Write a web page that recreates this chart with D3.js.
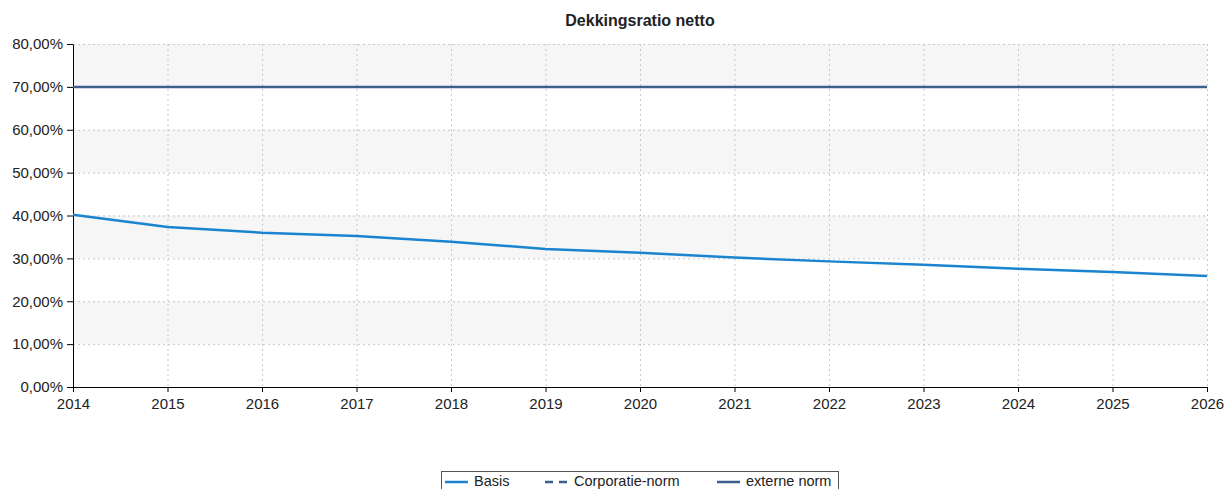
<!DOCTYPE html>
<html>
<head>
<meta charset="utf-8">
<script src="https://cdn.jsdelivr.net/npm/d3@7"></script>
<style>
    body { margin: 0; background: #fff; font-family: "Liberation Sans", Arial, sans-serif; }
    .tick text { font-size: 15px; fill: #222; font-family: "Liberation Sans", Arial, sans-serif; }
    .grid line { stroke: #c8c8c8; stroke-dasharray: 2,3; }
</style>
</head>
<body>
<div id="chart"></div>
<script>
// --- chart data ---
const years = [2014, 2015, 2016, 2017, 2018, 2019, 2020, 2021, 2022, 2023, 2024, 2025, 2026];
const basis = [40.2, 37.3, 36.0, 35.2, 33.9, 32.2, 31.3, 30.2, 29.3, 28.5, 27.6, 26.8, 25.9];
const corporatieNorm = [];   // no values shown in the chart, legend only
const externeNorm = [70, 70, 70, 70, 70, 70, 70, 70, 70, 70, 70, 70, 70];
const yTicks = [0, 10, 20, 30, 40, 50, 60, 70, 80];

const W = 1227, H = 489;
const margin = { top: 44, right: 20, bottom: 102, left: 73 };

const svg = d3.select('#chart').append('svg').attr('width', W).attr('height', H);

const x = d3.scaleLinear().domain([2014, 2026]).range([margin.left, W - margin.right]);
const y = d3.scaleLinear().domain([0, 80]).range([H - margin.bottom, margin.top]);

// alternating background bands
svg.append('g').selectAll('rect')
    .data(d3.range(0, 80, 10).filter(v => (v / 10) % 2 === 1))
    .join('rect')
    .attr('x', x(2014)).attr('width', x(2026) - x(2014))
    .attr('y', d => y(d + 10)).attr('height', d => y(d) - y(d + 10))
    .attr('fill', '#f6f6f6');

// grid
svg.append('g').attr('class', 'grid')
    .selectAll('line.h').data(yTicks.slice(1)).join('line')
    .attr('x1', x(2014)).attr('x2', x(2026))
    .attr('y1', d => y(d) + 0.5).attr('y2', d => y(d) + 0.5);
svg.append('g').attr('class', 'grid')
    .selectAll('line.v').data(years.slice(1)).join('line')
    .attr('x1', d => x(d) + 0.5).attr('x2', d => x(d) + 0.5)
    .attr('y1', y(80)).attr('y2', y(0));

// axes
const pct = d => d3.format('.2f')(d).replace('.', ',') + '%';
svg.append('g')
    .attr('transform', `translate(${x(2014)},0)`)
    .call(d3.axisLeft(y).tickValues(yTicks).tickFormat(pct).tickSize(6).tickSizeOuter(0).tickPadding(4))
    .call(g => g.select('.domain').attr('stroke', '#000'));
svg.append('g')
    .attr('transform', `translate(0,${y(0)})`)
    .call(d3.axisBottom(x).tickValues(years).tickFormat(d3.format('d')).tickSize(5).tickSizeOuter(0).tickPadding(6))
    .call(g => g.select('.domain').attr('stroke', '#000'));

// lines
const line = d3.line().x((d, i) => x(years[i])).y(d => y(d));
svg.append('path').datum(externeNorm)
    .attr('d', line).attr('fill', 'none')
    .attr('stroke', '#3c5f8e').attr('stroke-width', 2.5);
svg.append('path').datum(corporatieNorm)
    .attr('d', line).attr('fill', 'none')
    .attr('stroke', '#3c5f8e').attr('stroke-width', 2.5).attr('stroke-dasharray', '8,6');
svg.append('path').datum(basis)
    .attr('d', line)
    .attr('fill', 'none')
    .attr('stroke', '#1a84d0').attr('stroke-width', 2.5);

// title
svg.append('text')
    .attr('x', 640).attr('y', 26)
    .attr('text-anchor', 'middle')
    .attr('font-size', 16).attr('font-weight', 'bold').attr('fill', '#222')
    .text('Dekkingsratio netto');

// legend
const legend = svg.append('g');
legend.append('rect')
    .attr('x', 441.5).attr('y', 471.5).attr('width', 397).attr('height', 30)
    .attr('fill', '#fff').attr('stroke', '#555');
const items = [
    { name: 'Basis', color: '#1a84d0', dash: null, x: 445 },
    { name: 'Corporatie-norm', color: '#3c5f8e', dash: '8,6', x: 545 },
    { name: 'externe norm', color: '#3c5f8e', dash: null, x: 717 }
];
items.forEach(it => {
    legend.append('line')
        .attr('x1', it.x).attr('x2', it.x + 23)
        .attr('y1', 482).attr('y2', 482)
        .attr('stroke', it.color).attr('stroke-width', 2.5)
        .attr('stroke-dasharray', it.dash);
    legend.append('text')
        .attr('x', it.x + 29).attr('y', 485.5)
        .attr('font-size', 14.5).attr('fill', '#222')
        .text(it.name);
});
</script>
</body>
</html>
